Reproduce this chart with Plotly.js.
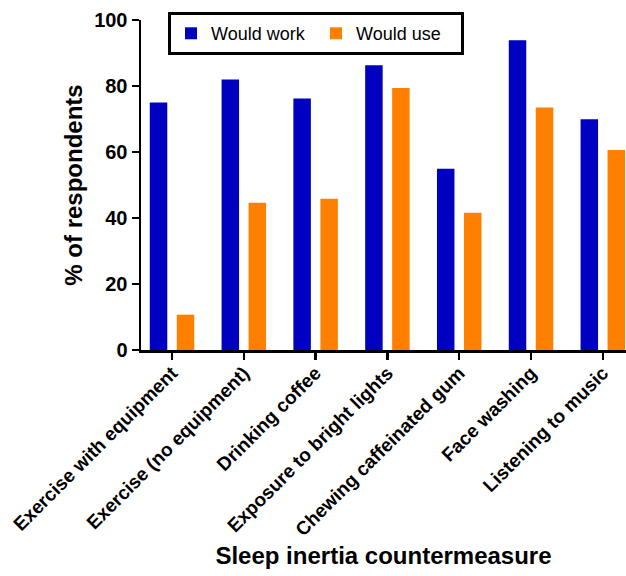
<!DOCTYPE html>
<html>
<head>
<meta charset="utf-8">
<script src="https://cdn.plot.ly/plotly-3.0.1.min.js"></script>
<style>html,body{margin:0;padding:0;background:#fff;}#chart{width:626px;height:576px;}</style>
</head>
<body>
<div id="chart"></div>
<script>
const categories = [
  "Exercise with equipment",
  "Exercise (no equipment)",
  "Drinking coffee",
  "Exposure to bright lights",
  "Chewing caffeinated gum",
  "Face washing",
  "Listening to music"
];
const wouldWork = [75.0, 82.0, 76.2, 86.3, 54.9, 93.9, 69.9];
const wouldUse = [10.7, 44.6, 45.8, 79.4, 41.6, 73.5, 60.6];
const seriesNames = ["Would work", "Would use"];
const yTicks = [0, 20, 40, 60, 80, 100];

const FONT = "Liberation Sans, Arial, Helvetica, sans-serif";

const traces = [
  {type: "bar", name: seriesNames[0], x: categories, y: wouldWork,
   marker: {color: "#0000c0"}},
  {type: "bar", name: seriesNames[1], x: categories, y: wouldUse,
   marker: {color: "#ff8000"}}
];

const layout = {
  width: 626, height: 576,
  margin: {l: 141, r: 0, t: 20, b: 226, pad: 0},
  paper_bgcolor: "#fff", plot_bgcolor: "#fff",
  barmode: "group", bargap: 0.248, bargroupgap: 0.352,
  font: {family: FONT, color: "#000"},
  showlegend: true,
  legend: {
    orientation: "h", x: 0.0557, xanchor: "left", y: 1.024, yanchor: "top",
    bordercolor: "#000", borderwidth: 3, bgcolor: "#fff",
    font: {family: FONT, size: 18, color: "#000"},
    itemwidth: 30, traceorder: "normal",
    entrywidth: 100, entrywidthmode: "pixels"
  },
  xaxis: {
    type: "category", range: [-0.432, 6.323],
    showline: true, linecolor: "#000", linewidth: 2.5,
    ticks: "outside", ticklen: 7, tickwidth: 2.5, tickcolor: "#000",
    tickangle: -45, showgrid: false, zeroline: false,
    ticklabelstandoff: -5,
    tickfont: {family: FONT, size: 19, color: "#000", weight: "bold"},
    title: {text: "<b>Sleep inertia countermeasure</b>", font: {family: FONT, size: 24, color: "#000"}}
  },
  yaxis: {
    range: [0, 100], tickvals: yTicks, ticktext: yTicks.map(String),
    showline: true, linecolor: "#000", linewidth: 2.5,
    ticks: "outside", ticklen: 7, tickwidth: 2.5, tickcolor: "#000",
    showgrid: false, zeroline: false,
    tickfont: {family: FONT, size: 20, color: "#000", weight: "bold"},
    title: {text: "<b>% of respondents</b>", font: {family: FONT, size: 24, color: "#000"}}
  }
};

Plotly.newPlot("chart", traces, layout, {displayModeBar: false, staticPlot: true});
</script>
</body>
</html>
